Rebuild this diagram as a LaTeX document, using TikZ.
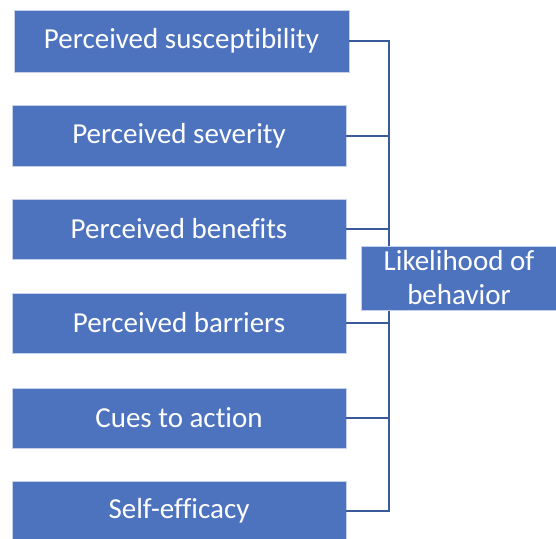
\documentclass[tikz,border=0pt]{standalone}
\usepackage{fontspec}
\setmainfont{Carlito}[Ligatures={NoCommon}]
\definecolor{boxblue}{HTML}{4E73BE}
\definecolor{boxedge}{HTML}{C5D0EA}
\definecolor{linkblue}{HTML}{3A5A9C}
\begin{document}
\begin{tikzpicture}[x=1pt,y=-1pt,
  factor/.style={fill=boxblue,draw=boxedge,line width=0.8pt,inner sep=0pt,
    text=white,font=\fontsize{29}{34}\selectfont},
  link/.style={draw=linkblue,line width=2pt}]
\useasboundingbox (0,0) rectangle (556,538);
% input factors
\node[factor,minimum width=335pt,minimum height=61.5pt] (sus) at (181.5,41.2) {Perceived susceptibility};
\node[factor,minimum width=334pt,minimum height=61pt] (sev) at (179,135.5) {Perceived severity};
\node[factor,minimum width=334pt,minimum height=60pt] (ben) at (179,229) {Perceived benefits};
\node[factor,minimum width=334pt,minimum height=60pt] (bar) at (179,323) {Perceived barriers};
\node[factor,minimum width=334pt,minimum height=60pt] (cue) at (179,418) {Cues to action};
\node[factor,minimum width=334pt,minimum height=60pt] (eff) at (179,511) {Self-efficacy};
% bracket joining the factors
\coordinate (top) at (389,41.2);
\coordinate (bot) at (389,511);
\draw[link] (sus.east) -- (top) -- (bot) -- (eff.east);
\foreach \n in {sev,ben,bar,cue} \draw[link] (\n.east) -- (\n.east -| top);
% outcome
\node[factor,minimum width=195pt,minimum height=64pt,align=center] (out) at (459,278) {Likelihood of\\behavior};
\end{tikzpicture}
\end{document}
